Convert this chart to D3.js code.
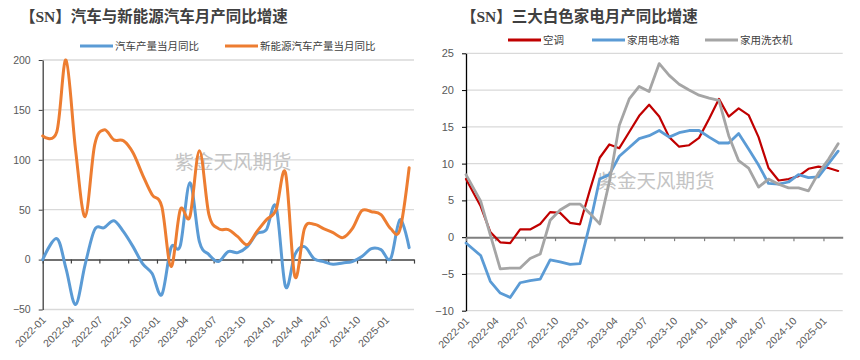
<!DOCTYPE html>
<html><head><meta charset="utf-8">
<script src="https://cdn.jsdelivr.net/npm/d3@7/dist/d3.min.js"></script>
<style>body{margin:0;background:#fff}svg{display:block}</style>
</head><body><svg id="c" width="860" height="360"></svg>
<script>
// ---------- data ----------
const monthsL = ["2022-01","2022-02","2022-03","2022-04","2022-05","2022-06","2022-07","2022-08","2022-09","2022-10","2022-11","2022-12",
"2023-01","2023-02","2023-03","2023-04","2023-05","2023-06","2023-07","2023-08","2023-09","2023-10","2023-11","2023-12",
"2024-01","2024-02","2024-03","2024-04","2024-05","2024-06","2024-07","2024-08","2024-09","2024-10","2024-11","2024-12",
"2025-01","2025-02","2025-03"];
const autoYoY = [0,21,-9,-45,-5,30,32,39,28,13,-4,-14,-35,12,14,77,18,5,-2,8,7,13,26,30,53,-27,5,13,1,-2,-4.7,-3.3,-2,3,11,10,1,40,12];
const nevYoY  = [124,128,200,110,43,115,130,120,119,107,85,65,53,-7,50,43,109,45,31,30,23,15,28,40,50,87,-17,31,35.5,31,27,22,31,49,48,45,31,30,92];
const monthsR = monthsL.slice(0, 38);
const acYoY     = [7.9,4.2,0.7,-0.7,-0.8,1.05,1.05,1.8,3.4,3.3,1.95,1.75,6.5,10.8,12.6,12.1,14.3,16.5,18.0,16.4,13.6,12.3,12.5,13.5,16.1,18.8,16.4,17.5,16.6,13.6,9.4,7.7,7.9,8.3,9.3,9.6,9.4,9.0];
const fridgeYoY = [-0.8,-2.5,-6.0,-7.6,-8.2,-6.2,-5.9,-5.7,-3.1,-3.35,-3.7,-3.6,1.9,7.9,8.5,11.0,12.2,13.4,13.8,14.5,13.6,14.2,14.5,14.5,13.6,12.8,12.8,14.1,12.0,9.8,7.3,7.2,7.5,8.5,8.1,8.2,10.0,11.7];
const washerYoY = [8.5,4.9,0.3,-4.3,-4.2,-4.2,-2.9,-2.3,2.3,3.7,4.5,4.5,3.2,1.8,7.5,15.2,18.8,20.5,19.8,23.6,22.0,20.8,20.0,19.3,18.9,18.6,13.8,10.4,9.4,6.8,7.9,7.2,6.7,6.7,6.3,8.7,10.6,12.7];
const tickMonthsL = ["2022-01","2022-04","2022-07","2022-10","2023-01","2023-04","2023-07","2023-10","2024-01","2024-04","2024-07","2024-10","2025-01","2025-04"];
const labelMonths = ["2022-01","2022-04","2022-07","2022-10","2023-01","2023-04","2023-07","2023-10","2024-01","2024-04","2024-07","2024-10","2025-01"];
const tickMonthsR = labelMonths;
const yTicksL = [-50,0,50,100,150,200];
const yTicksR = [-10,-5,0,5,10,15,20,25];
const titleL = "【SN】汽车与新能源汽车月产同比增速";
const titleR = "【SN】三大白色家电月产同比增速";
const seriesNamesL = ["汽车产量当月同比","新能源汽车产量当月同比"];
const seriesNamesR = ["空调","家用电冰箱","家用洗衣机"];
const watermark = "紫金天风期货";

// ---------- helpers ----------
const parse = d3.timeParse("%Y-%m");
const pointDate = (m, i) => {
  const s = parse(m);
  if (i === 0) return s;
  return new Date((+s + +d3.timeMonth.offset(s, 1)) / 2);
};
const svg = d3.select("#c");
const numFont = "'Liberation Sans', Arial, sans-serif";
const cjkFont = "'Noto Sans CJK SC', sans-serif";
const titleFont = "'Liberation Serif', 'Noto Sans CJK SC', serif";

function panel(cfg) {
  const g = svg.append("g");
  const x = d3.scaleTime().domain([parse(cfg.xStart), parse(cfg.xEnd)]).range([cfg.x0, cfg.x1]);
  const y = d3.scaleLinear().domain(cfg.yDomain).range([cfg.yBottom, cfg.yTop]);

  // title
  g.append("text").attr("x", cfg.titleX).attr("y", 22)
    .attr("font-family", titleFont).attr("font-weight", "bold").attr("font-size", 15.5)
    .attr("fill", "#404040").text(cfg.title);

  // gridlines
  g.append("g").selectAll("line").data(cfg.yTicks.filter(v => v !== 0)).join("line")
    .attr("x1", cfg.x0).attr("x2", cfg.x1).attr("y1", d => y(d)).attr("y2", d => y(d))
    .attr("stroke", "#d9d9d9").attr("stroke-width", 1.3);

  // watermark
  g.append("text").attr("x", cfg.wmX).attr("y", cfg.wmY).attr("text-anchor", "middle")
    .attr("font-family", cjkFont).attr("font-size", 19.5).attr("fill", "#c4c4c4").text(watermark);

  // y axis
  const ya = g.append("g").attr("transform", `translate(${cfg.x0},0)`)
    .call(d3.axisLeft(y).tickValues(cfg.yTicks).tickSize(4).tickSizeOuter(0).tickPadding(8));
  ya.select(".domain").attr("stroke", cfg.yAxisColor).attr("stroke-width", 1.3);
  ya.selectAll(".tick line").attr("stroke", cfg.yAxisColor);
  ya.selectAll("text").attr("font-family", numFont).attr("font-size", cfg.yFont).attr("fill", "#595959");

  // x axis at zero
  const xa = g.append("g").attr("transform", `translate(0,${y(0)})`)
    .call(d3.axisBottom(x).tickValues(cfg.tickMonths.map(parse)).tickSize(4).tickSizeOuter(0).tickFormat(""));
  xa.select(".domain").attr("stroke", cfg.xAxisColor).attr("stroke-width", cfg.xAxisWidth);
  xa.selectAll(".tick line").attr("stroke", cfg.xAxisColor).attr("stroke-width", 1.2);

  // x labels at bottom
  g.append("g").selectAll("text").data(labelMonths).join("text")
    .attr("transform", d => `translate(${x(parse(d)) + 4},${cfg.yBottom + 11}) rotate(-45)`)
    .attr("text-anchor", "end").attr("font-family", numFont).attr("font-size", 10.5)
    .attr("fill", "#595959").text(d => d);

  // series
  cfg.series.forEach(s => {
    const pts = s.values.map((v, i) => [x(pointDate(cfg.months[i], i)), y(v)]);
    g.append("path").attr("d", d3.line().curve(cfg.curve)(pts))
      .attr("fill", "none").attr("stroke", s.color).attr("stroke-width", s.width)
      .attr("stroke-linejoin", "round").attr("stroke-linecap", "round");
  });

  // legend
  cfg.series.forEach((s, i) => {
    const lx = cfg.legendX[i];
    g.append("line").attr("x1", lx).attr("x2", lx + 33).attr("y1", cfg.legendY).attr("y2", cfg.legendY)
      .attr("stroke", s.color).attr("stroke-width", 3);
    g.append("text").attr("x", lx + 35).attr("y", cfg.legendY + 4)
      .attr("font-family", cjkFont).attr("font-size", 10.5).attr("fill", "#404040").text(s.name);
  });
}

panel({
  title: titleL, titleX: 20,
  xStart: "2022-01", xEnd: "2025-04", x0: 42.7, x1: 414,
  yDomain: [-50, 200], yTop: 60, yBottom: 309.5, yTicks: yTicksL, yFont: 10.5,
  yAxisColor: "#404040", xAxisColor: "#404040", xAxisWidth: 1.5,
  tickMonths: tickMonthsL, months: monthsL,
  curve: d3.curveCardinal.tension(0),
  wmX: 233, wmY: 169,
  legendX: [80, 225], legendY: 46,
  series: [
    {name: seriesNamesL[0], values: autoYoY, color: "#5b9bd5", width: 3},
    {name: seriesNamesL[1], values: nevYoY, color: "#ed7d31", width: 3}
  ]
});

panel({
  title: titleR, titleX: 461,
  xStart: "2022-01", xEnd: "2025-03", x0: 466, x1: 842.7,
  yDomain: [-10, 25], yTop: 53.3, yBottom: 310.7, yTicks: yTicksR, yFont: 11,
  yAxisColor: "#000000", xAxisColor: "#7f7f7f", xAxisWidth: 2,
  tickMonths: tickMonthsR, months: monthsR,
  curve: d3.curveLinear,
  wmX: 656, wmY: 188,
  legendX: [508, 592, 705], legendY: 40,
  series: [
    {name: seriesNamesR[0], values: acYoY, color: "#c00000", width: 2.2},
    {name: seriesNamesR[1], values: fridgeYoY, color: "#5b9bd5", width: 2.8},
    {name: seriesNamesR[2], values: washerYoY, color: "#a5a5a5", width: 2.8}
  ]
});
</script></body></html>
